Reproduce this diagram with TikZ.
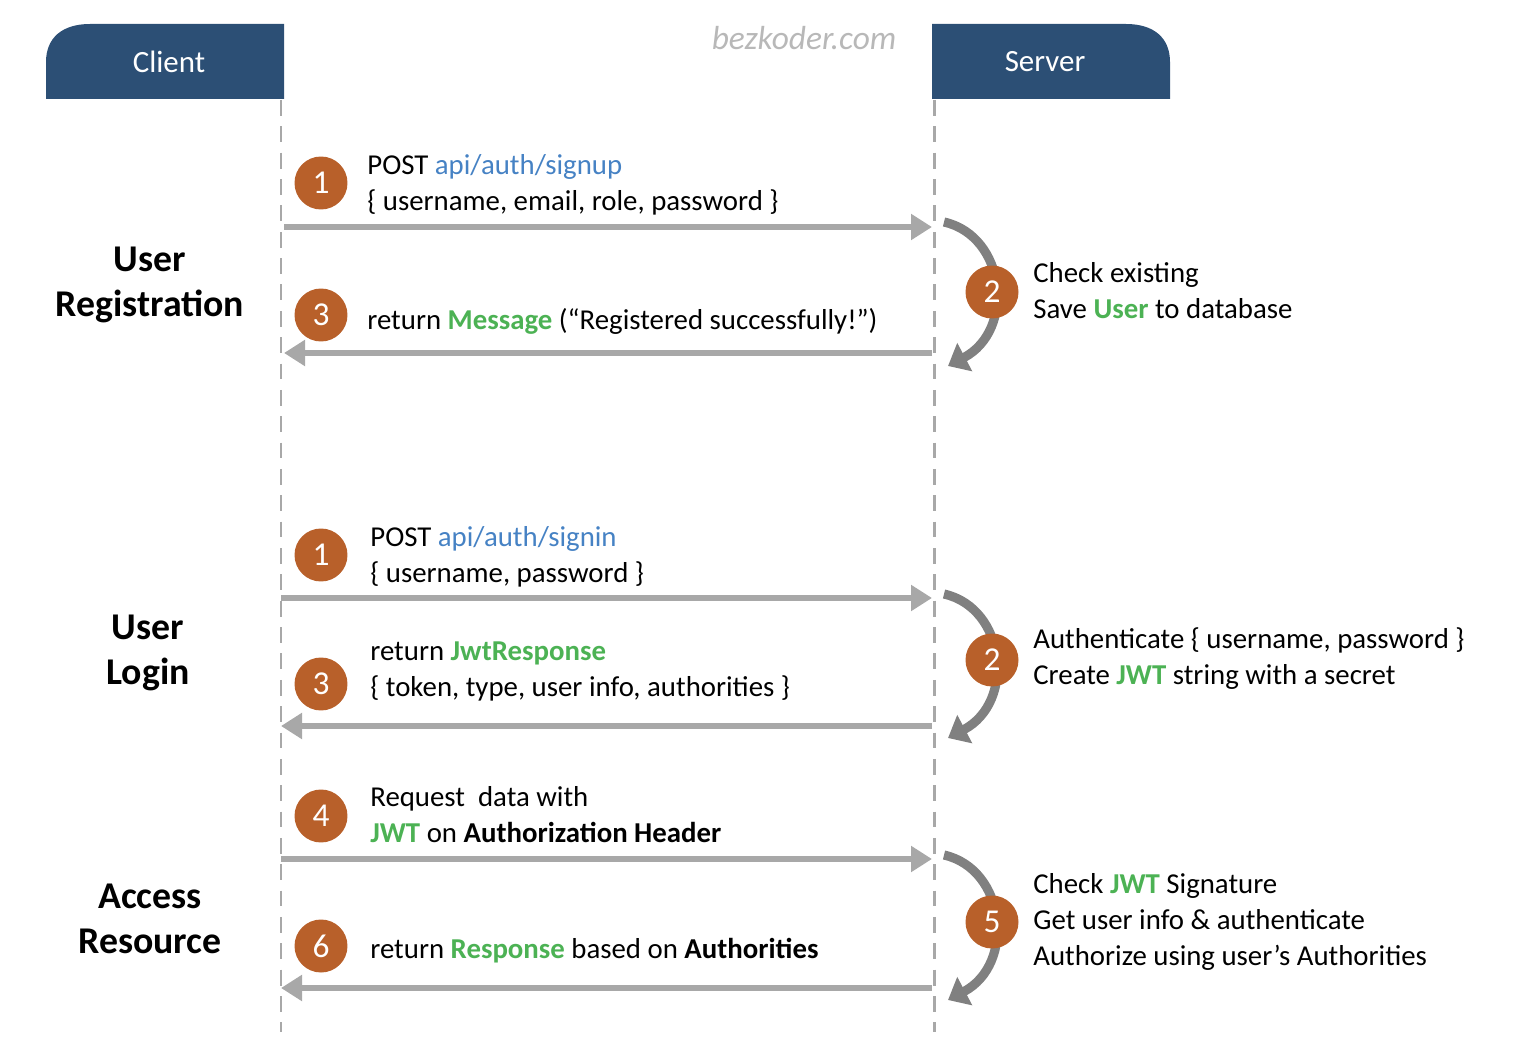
\documentclass[tikz,border=0pt]{standalone}
\usepackage{fontspec}
\setmainfont{Carlito}
\usetikzlibrary{arrows.meta}
\definecolor{hdrblue}{RGB}{44,79,117}
\definecolor{stepbrown}{RGB}{184,96,42}
\definecolor{okgreen}{RGB}{76,178,84}
\definecolor{linkblue}{RGB}{70,130,196}
\definecolor{flowgray}{RGB}{168,168,168}
\definecolor{loopgray}{RGB}{128,128,128}
\newcommand{\grn}[1]{\textcolor{okgreen}{\textbf{#1}}}
\newcommand{\lnk}[1]{\textcolor{linkblue}{#1}}
\tikzset{
  hdr/.style={fill=hdrblue},
  hdrtext/.style={text=white, font=\fontsize{17.6}{17}\selectfont},
  stepnum/.style={circle, fill=stepbrown, text=white, minimum size=1.06cm, inner sep=0pt, font=\fontsize{19}{19}\selectfont},
  msg/.style={anchor=west, align=left, inner sep=0pt, font=\fontsize{16.4}{20.5}\selectfont},
  sect/.style={align=center, inner sep=0pt, font=\fontsize{21.5}{26}\selectfont\bfseries},
  life/.style={draw=flowgray, line width=1.7pt, dash pattern=on 9pt off 6pt},
  flow/.style={draw=flowgray, line width=3.3pt, -{Triangle[length=0.42cm, width=0.5cm]}},
  loopy/.style={draw=loopgray, line width=5.2pt, -{Triangle[length=0.38cm, width=0.62cm]}}
}
\begin{document}
\begin{tikzpicture}[x=0.02cm, y=-0.02cm]
\useasboundingbox (0,0) rectangle (1524,1050);

%%%%% headers
\fill[hdr] (46,99) -- (46,62) .. controls (46,38) and (62,24) .. (90,24) -- (284,24) -- (284,99) -- cycle;
\fill[hdr] (932,99) -- (932,24) -- (1126,24) .. controls (1154,24) and (1170,38) .. (1170,62) -- (1170,99) -- cycle;
\node[hdrtext] (client) at (169,62) {Client};
\node[hdrtext] (server) at (1045,62) {Server};
\node[text=black!28, font=\fontsize{19}{19}\selectfont\itshape] (mark) at (804,38) {bezkoder.com};

%%%%% lifelines
\coordinate (c0) at (281,100);
\coordinate (c1) at (281,1032);
\coordinate (s0) at (934,100);
\coordinate (s1) at (934,1032);
\draw[life] (c0) -- (c1);
\draw[life] (s0) -- (s1);

%%%%% sections
\node[sect] (reg) at (150,285) {User\\Registration};
\node[sect] (login) at (148,653) {User\\Login};
\node[sect] (access) at (150,919) {Access\\Resource};

%%%%% registration
\coordinate (r1a) at (284,227); \coordinate (r1b) at (932,227);
\coordinate (r3a) at (932,353); \coordinate (r3b) at (284,353);
\draw[flow] (r1a) -- (r1b);
\draw[flow] (r3a) -- (r3b);
\coordinate (r2a) at (944,222); \coordinate (r2b) at (948,366);
\draw[loopy] (r2a) .. controls (1006,236) and (1016,330) .. (r2b);
\node[stepnum] (reg1) at (321,183) {1};
\node[stepnum] (reg2) at (992,292) {2};
\node[stepnum] (reg3) at (321,315) {3};
\node[msg] (reg1t) at (367,185) {POST \lnk{api/auth/signup}\\\{ username, email, role, password \}};
\node[msg] (reg2t) at (1033,291) {Check existing\\Save \grn{User} to database};
\node[msg] (reg3t) at (367,321) {return \grn{Message} (“Registered successfully!”)};

%%%%% login
\coordinate (l1a) at (281,598); \coordinate (l1b) at (932,598);
\coordinate (l3a) at (932,726); \coordinate (l3b) at (281,726);
\draw[flow] (l1a) -- (l1b);
\draw[flow] (l3a) -- (l3b);
\coordinate (l2a) at (944,594); \coordinate (l2b) at (948,738);
\draw[loopy] (l2a) .. controls (1006,608) and (1016,702) .. (l2b);
\node[stepnum] (log1) at (321,555) {1};
\node[stepnum] (log2) at (992,660) {2};
\node[stepnum] (log3) at (321,684) {3};
\node[msg] (log1t) at (370,557) {POST \lnk{api/auth/signin}\\\{ username, password \}};
\node[msg] (log2t) at (1033,659) {Authenticate \{ username, password \}\\Create \grn{JWT} string with a secret};
\node[msg] (log3t) at (370,671) {return \grn{JwtResponse}\\\{ token, type, user info, authorities \}};

%%%%% access
\coordinate (a4a) at (281,859); \coordinate (a4b) at (932,859);
\coordinate (a6a) at (932,988); \coordinate (a6b) at (281,988);
\draw[flow] (a4a) -- (a4b);
\draw[flow] (a6a) -- (a6b);
\coordinate (a5a) at (944,855); \coordinate (a5b) at (948,1000);
\draw[loopy] (a5a) .. controls (1006,869) and (1016,964) .. (a5b);
\node[stepnum] (acc4) at (321,816) {4};
\node[stepnum] (acc5) at (992,922) {5};
\node[stepnum] (acc6) at (321,946) {6};
\node[msg] (acc4t) at (370,815) {Request\ \ data with\\\grn{JWT} on \textbf{Authorization Header}};
\node[msg] (acc5t) at (1033,922) {Check \grn{JWT} Signature\\Get user info \& authenticate\\Authorize using user’s Authorities};
\node[msg] (acc6t) at (370,951) {return \grn{Response} based on \textbf{Authorities}};
\end{tikzpicture}
\end{document}
